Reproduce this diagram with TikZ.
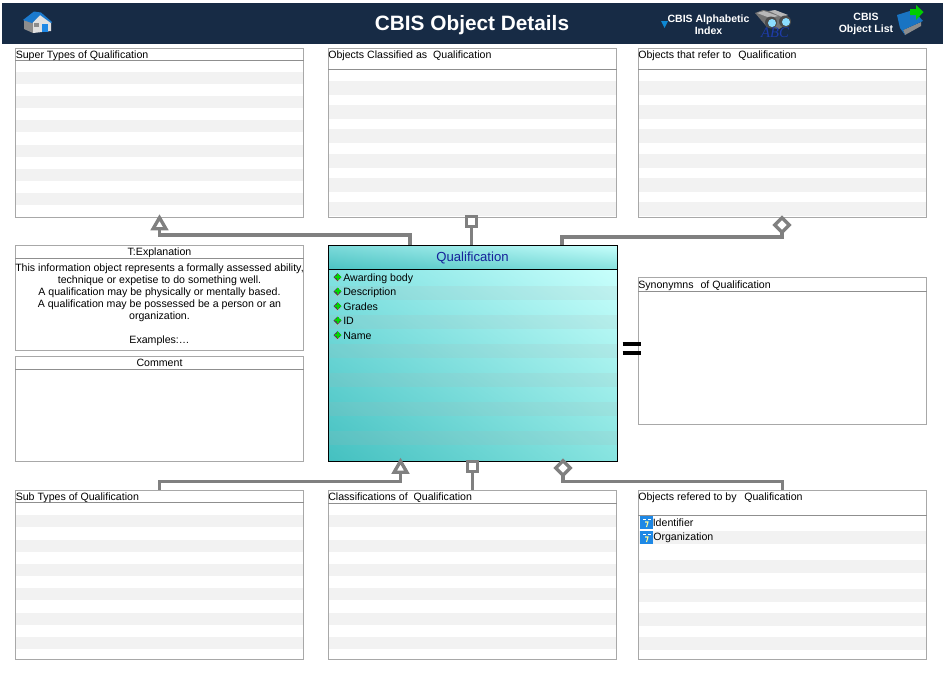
\documentclass[tikz,border=0pt]{standalone}
\usepackage{fontspec}
\setmainfont{Liberation Sans}
\newfontfamily\abcfont{Liberation Serif}
\usetikzlibrary{shapes.geometric,shadings}
\definecolor{navy}{HTML}{172B45}
\definecolor{edge}{HTML}{A8A8A8}
\definecolor{rowgrey}{HTML}{F2F2F2}
\definecolor{conn}{HTML}{808080}
\definecolor{classtitle}{HTML}{16229A}
\definecolor{iconblue}{HTML}{1E88E5}
\definecolor{tealLL}{RGB}{68,192,192}
\definecolor{tealLR}{RGB}{135,228,224}
\definecolor{tealUL}{RGB}{130,226,226}
\definecolor{tealUR}{RGB}{200,255,252}
\definecolor{headUL}{RGB}{125,218,218}
\definecolor{headUR}{RGB}{200,255,252}
\definecolor{headLL}{RGB}{75,195,195}
\definecolor{headLR}{RGB}{135,225,222}
\newcommand{\fs}{\fontsize{7.95pt}{10pt}\selectfont}
\tikzset{
  x=0.75pt,y=-0.75pt,
  panel/.style={draw=edge,line width=0.75pt,fill=none,inner sep=0pt,outer sep=0pt,minimum width=216.5pt,minimum height=126.75pt,anchor=north west},
  plabel/.style={anchor=base west,inner sep=0pt,font=\fs,text=black},
  clabel/.style={anchor=base,inner sep=0pt,font=\fs,text=black},
  hline/.style={draw=edge!85!black,line width=0.75pt},
  link/.style={draw=conn,line width=2.7pt},
  sqm/.style={draw=conn,line width=2.6pt,fill=white,rectangle,minimum size=7.5pt,inner sep=0pt,outer sep=0pt},
  dim/.style={draw=conn,line width=2.5pt,fill=white,diamond,minimum size=11pt,inner sep=0pt,outer sep=0pt,aspect=1},
  trim/.style={draw=conn,line width=2.5pt,fill=white,regular polygon,regular polygon sides=3,minimum size=11pt,inner sep=0pt,outer sep=0pt},
  attr/.style={anchor=base west,inner sep=0pt,font=\fs,text=black},
  headtxt/.style={inner sep=0pt,align=center,text=white,font=\fontsize{7.9pt}{9.6pt}\selectfont\bfseries},
}
% #1 left x, #2 list of top y of grey rows, #3 row height
\newcommand{\greyrows}[3]{%
  \foreach \ya in {#2}{\fill[rowgrey] (#1+1,\ya) rectangle (#1+288,\ya+#3);}%
}
\newcommand{\attrmark}[2]{%
  \fill[black!25] (#1-3,#2+1.5) -- (#1,#2+5) -- (#1+3,#2+1.5) -- cycle;
  \fill[black!70] (#1-4,#2) -- (#1,#2-4) -- (#1+4,#2) -- (#1,#2+4) -- cycle;
  \fill[green!85!black] (#1-1,#2-3.5) rectangle (#1+1,#2+2.5);
  \fill[green!85!black] (#1-3,#2-1.5) rectangle (#1+3,#2+0.5);
}
\newcommand{\qicon}[2]{%
  \fill[iconblue] (#1,#2) rectangle (#1+13,#2+13);
  \draw[white,line width=0.5pt] (#1+3,#2+3) -- (#1+6,#2+3) (#1+8,#2+3) -- (#1+11,#2+3);
  \draw[yellow!40,line width=0.8pt] (#1+5,#2+6) -- (#1+8,#2+6) -- (#1+6.5,#2+11);
}
\begin{document}
\begin{tikzpicture}
\useasboundingbox (0,0) rectangle (945,672);
\fill[white] (0,0) rectangle (945,672);
% title bar
\node[fill=navy,inner sep=0pt,outer sep=0pt,minimum width=706pt,minimum height=30.75pt,anchor=north west] (bar) at (2,3) {};
\node[text=white,inner sep=0pt,font=\fontsize{15.6pt}{18pt}\selectfont\bfseries] (title) at (472,25.5) {CBIS Object Details};
% house icon
\fill[black!45] (24,20) -- (24,29) -- (33,33) -- (33,22) -- cycle;
\fill[white!88!black] (33,22) -- (40,14) -- (51,22) -- (51,31) -- (33,33) -- cycle;
\fill[iconblue!90!black] (23,20) -- (34,11.5) -- (41,12.5) -- (52,22) -- (51,23) -- (40,15) -- (32,23) -- cycle;
\fill[iconblue] (42,24) rectangle (48,32);
\fill[black!45] (34,23) rectangle (39,27);
% index
\fill[cyan!70!blue] (661,21) -- (668,21) -- (664.5,28) -- cycle;
\node[headtxt,font=\fontsize{7.9pt}{9pt}\selectfont\bfseries] (idx) at (708.5,25) {CBIS Alphabetic\\Index};
% binoculars
\fill[black!55] (755,13) -- (763,10) -- (785,14) -- (791,22) -- (779,29) -- (767,27) -- cycle;
\fill[black!28] (757,13) -- (764,11) -- (778,16) -- (770,18) -- cycle;
\fill[black!28] (769,11) -- (775,10) -- (788,15) -- (782,17) -- cycle;
\fill[black!70] (771,22.5) circle (6);
\fill[black!70] (785,21.5) circle (6);
\fill[blue!30!cyan!45] (772,23) circle (4);
\fill[blue!30!cyan!45] (786,22) circle (4);
\node[text={rgb,255:red,30;green,60;blue,170},inner sep=0pt,font=\abcfont\fontsize{11pt}{12pt}\selectfont\itshape] (abc) at (775,32.5) {ABC};
% list
\node[headtxt] (lst) at (866,24) {CBIS\\Object List};
\fill[black!45] (903,30) -- (921,22) -- (921,26) -- (905,35) -- cycle;
\fill[iconblue!85!black] (897,15) -- (913,10) -- (923,21) -- (903,30) -- (905,35) -- (900,28) -- cycle;
\fill[green!80!black] (910,9) -- (916,9) -- (916,5) -- (923.5,12) -- (916,20) -- (916,15) -- (910,15) -- cycle;
% rows
\greyrows{15}{71.7,96,120.3,144.6,168.9,193.2}{12}
\greyrows{328}{81,105.2,129.4,153.6,177.8,202}{14}
\greyrows{638}{81,105.2,129.4,153.6,177.8,202}{14}
\greyrows{15}{514.5,540,564,588,612.5,637}{12}
\greyrows{328}{515,540,564,588,612.5,637}{12}
\greyrows{638}{531,560,589,613,637}{13}
% panels
\node[panel] (super) at (15,48) {};
\node[panel] (classed) at (328,48) {};
\node[panel] (refer) at (638,48) {};
\node[panel] (sub) at (15,490) {};
\node[panel] (classif) at (328,490) {};
\node[panel] (refby) at (638,490) {};
\draw[hline] (15,60) -- (304,60);
\draw[hline] (328,69) -- (617,69);
\draw[hline] (638,69) -- (927,69);
\draw[hline] (15,502) -- (304,502);
\draw[hline] (328,503) -- (617,503);
\draw[hline] (638,515) -- (927,515);
\node[plabel] (lsuper) at (15.5,58) {Super Types of Qualification};
\node[plabel] (lclassed) at (328,58) {Objects Classified as\ \ Qualification};
\node[plabel] (lrefer) at (638,58) {Objects that refer to\kern3pt\ Qualification};
\node[plabel] (lsub) at (15.5,500) {Sub Types of Qualification};
\node[plabel] (lclassif) at (328,500) {Classifications of\ \ Qualification};
\node[plabel] (lrefby) at (638,500) {Objects refered to by\kern3.5pt\ Qualification};
\node[plabel] (iident) at (652.5,526) {Identifier};
\node[plabel] (iorg) at (653,540.5) {Organization};
\qicon{640}{516}
\qicon{640}{531}
% explanation
\node[panel,minimum height=78.75pt] (expl) at (15,245) {};
\draw[hline] (15,258.5) -- (304,258.5);
\node[clabel] (lexpl) at (159.5,255) {T:Explanation};
\node[anchor=north,inner sep=0pt,align=center,font=\fontsize{7.95pt}{9pt}\selectfont] (texpl) at (159.5,263.5) {This information object represents a formally assessed ability,\\technique or expetise to do something well.\\A qualification may be physically or mentally based.\\A qualification may be possessed be a person or an\\organization.\\[9pt]Examples:\dots};
% comment
\node[panel,minimum height=79pt] (comm) at (15,356) {};
\draw[hline] (15,369.5) -- (304,369.5);
\node[clabel] (lcomm) at (159.5,366) {Comment};
% synonyms
\node[panel,minimum height=110.25pt] (syn) at (638,277) {};
\draw[hline] (638,291) -- (927,291);
\node[plabel] (lsyn) at (638,288) {Synonymns\kern3pt\ of Qualification};
% class
\shade[lower left=tealLL,lower right=tealLR,upper left=tealUL,upper right=tealUR] (328,269) rectangle (617,461);
\foreach \ya in {285.5,314.5,343.5,372.5,401.5,430.5}{\fill[black!30,opacity=0.14] (329,\ya) rectangle (617,\ya+14.5);}
\shade[lower left=headLL,lower right=headLR,upper left=headUL,upper right=headUR] (328,245) rectangle (617,269);
\node[draw=black,line width=0.6pt,anchor=north west,minimum width=216.5pt,minimum height=162pt,inner sep=0pt,outer sep=0pt] (class) at (328.5,245) {};
\draw[black,line width=0.6pt] (class.west |- 0,269) -- (class.east |- 0,269);
\node[anchor=base,inner sep=0pt,text=classtitle,font=\fontsize{9.85pt}{12pt}\selectfont] (ctitle) at (472.5,261.5) {Qualification};
\attrmark{337.5}{277}
\attrmark{337.5}{291.5}
\attrmark{337.5}{306}
\attrmark{337.5}{320.5}
\attrmark{337.5}{335}
\node[attr] (a1) at (343,281) {Awarding body};
\node[attr] (a2) at (343,295.5) {Description};
\node[attr] (a3) at (343,310) {Grades};
\node[attr] (a4) at (343,324.5) {ID};
\node[attr] (a5) at (343,339) {Name};
% connectors
\coordinate (ctop1) at (410,245);
\coordinate (ctop2) at (472,245);
\coordinate (ctop3) at (562,245);
\node[trim] (t1) at (159.5,225) {};
\node[sqm] (s1) at (471.5,221.5) {};
\node[dim] (d1) at (782,225) {};
\node[trim] (t2) at (400.5,468.5) {};
\node[sqm] (s2) at (472.5,466.5) {};
\node[dim] (d2) at (563,468) {};
\draw[link] (t1.south) |- (410,235) -- (ctop1);
\draw[link] (s1.south) -- (ctop2 -| s1.south);
\draw[link] (d1.south) |- (562,237) -- (ctop3);
\draw[link] (t2.south) |- (159.5,481.5) -- (sub.north -| t1);
\draw[link] (s2.south) -- (classif.north -| s2);
\draw[link] (d2.south) |- (782.5,481.5) -- (refby.north -| 782.5,0);
% equals
\coordinate (eqL) at (622.5,344);
\coordinate (eqR) at (641,344);
\draw[black,line width=2.6pt] (eqL) -- (eqR) ([yshift=-6.75pt]eqL) -- ([yshift=-6.75pt]eqR);
\end{tikzpicture}
\end{document}
